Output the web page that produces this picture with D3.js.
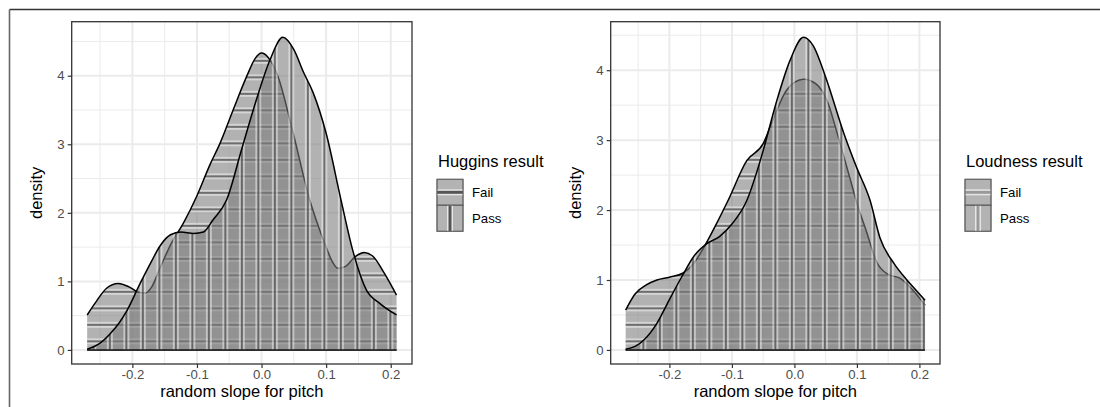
<!DOCTYPE html>
<html>
<head>
<meta charset="utf-8">
<script src="https://cdn.jsdelivr.net/npm/d3@7"></script>
<style>
  body { margin: 0; background: #fff; }
  text { font-family: "Liberation Sans", Arial, sans-serif; }
</style>
</head>
<body>
<div id="chart"></div>
<script>
// data: [slope, density]
const hugginsFail = [[-0.27,0.51],[-0.255,0.72],[-0.24,0.9],[-0.222,0.97],[-0.205,0.92],[-0.19,0.84],[-0.18,0.83],[-0.17,0.92],[-0.157,1.2],[-0.14,1.55],[-0.121,1.85],[-0.1,2.25],[-0.08,2.7],[-0.064,3.02],[-0.044,3.5],[-0.023,3.99],[-0.01,4.25],[0,4.33],[0.01,4.27],[0.025,4.0],[0.049,3.16],[0.0745,2.19],[0.09,1.75],[0.1,1.5],[0.11,1.28],[0.118,1.19],[0.13,1.22],[0.145,1.36],[0.159,1.42],[0.172,1.37],[0.19,1.12],[0.209,0.8]]
const hugginsPass = [[-0.27,0.01],[-0.25,0.1],[-0.234,0.24],[-0.22,0.4],[-0.208,0.58],[-0.188,0.97],[-0.17,1.3],[-0.157,1.52],[-0.141,1.68],[-0.125,1.72],[-0.105,1.7],[-0.09,1.72],[-0.075,1.9],[-0.054,2.19],[-0.031,2.92],[-0.008,3.65],[0.013,4.23],[0.033,4.56],[0.05,4.38],[0.065,4.05],[0.08,3.75],[0.1,3.16],[0.123,2.19],[0.141,1.46],[0.162,0.88],[0.183,0.68],[0.209,0.51]]
const loudnessFail = [[-0.27,0.57],[-0.255,0.8],[-0.237,0.93],[-0.22,1.0],[-0.2,1.04],[-0.178,1.1],[-0.16,1.25],[-0.146,1.45],[-0.125,1.8],[-0.106,2.14],[-0.076,2.71],[-0.05,2.95],[-0.034,3.3],[-0.012,3.72],[0.0145,3.87],[0.035,3.8],[0.052,3.57],[0.07,3.05],[0.089,2.45],[0.1,2.1],[0.115,1.7],[0.132,1.25],[0.15,1.08],[0.17,1.02],[0.19,0.85],[0.209,0.64]]
const loudnessPass = [[-0.27,0.01],[-0.255,0.05],[-0.24,0.15],[-0.22,0.38],[-0.2,0.72],[-0.18,1.05],[-0.16,1.35],[-0.14,1.52],[-0.12,1.62],[-0.1,1.8],[-0.076,2.14],[-0.06,2.55],[-0.05,2.85],[-0.028,3.57],[-0.007,4.14],[0.0145,4.47],[0.03,4.35],[0.05,3.9],[0.079,3.1],[0.1,2.6],[0.121,2.14],[0.137,1.6],[0.159,1.24],[0.18,1.0],[0.195,0.85],[0.209,0.71]]

const xTicks = [-0.2, -0.1, 0.0, 0.1, 0.2]
const xMinor = [-0.25, -0.15, -0.05, 0.05, 0.15]
const yTicks = [0, 1, 2, 3, 4]
const yMinor = [0.5, 1.5, 2.5, 3.5, 4.5]
const groups = ["Fail", "Pass"]
const xLabel = "random slope for pitch"
const yLabel = "density"

const width = 1100
const height = 407

const panels = [
    {id: "hug", left: 71.7, right: 412, top: 21.7, bottom: 364, title: "Huggins result",
     fail: hugginsFail, pass: hugginsPass, legendX: 437, keyDark: "#555"},
    {id: "loud", left: 610.7, right: 940, top: 21.7, bottom: 364, title: "Loudness result",
     fail: loudnessFail, pass: loudnessPass, legendX: 965, keyDark: "#9a9a9a"}
]

const svg = d3.select("#chart").append("svg")
    .attr("width", width).attr("height", height)

svg.append("rect").attr("width", width).attr("height", height).attr("fill", "#fff")

// outer frame
svg.append("line").attr("x1", 9.5).attr("x2", width).attr("y1", 9.5).attr("y2", 9.5)
    .attr("stroke", "#333").attr("stroke-width", 1.6)
svg.append("line").attr("x1", 9.5).attr("x2", 9.5).attr("y1", 9.5).attr("y2", height)
    .attr("stroke", "#666").attr("stroke-width", 1.6)

const defs = svg.append("defs")

panels.forEach(p => {
    const allD = p.fail.concat(p.pass)
    const xs = d3.extent(allD, d => d[0])
    const xr = xs[1] - xs[0]
    const yMax = d3.max(allD, d => d[1])

    const x = d3.scaleLinear().domain([xs[0] - 0.05 * xr, xs[1] + 0.05 * xr]).range([p.left, p.right])
    const y = d3.scaleLinear().domain([-0.045 * yMax, yMax * 1.05]).range([p.bottom, p.top])

    const g = svg.append("g")

    // grid
    const grid = g.append("g")
    grid.selectAll(".ymin").data(yMinor.filter(v => v < y.domain()[1])).enter().append("line")
        .attr("x1", p.left).attr("x2", p.right).attr("y1", d => y(d)).attr("y2", d => y(d))
        .attr("stroke", "#ebebeb").attr("stroke-width", 1)
    grid.selectAll(".xmin").data(xMinor).enter().append("line")
        .attr("y1", p.top).attr("y2", p.bottom).attr("x1", d => x(d)).attr("x2", d => x(d))
        .attr("stroke", "#ebebeb").attr("stroke-width", 1)
    grid.selectAll(".ymaj").data(yTicks).enter().append("line")
        .attr("x1", p.left).attr("x2", p.right).attr("y1", d => y(d)).attr("y2", d => y(d))
        .attr("stroke", "#ebebeb").attr("stroke-width", 2)
    grid.selectAll(".xmaj").data(xTicks).enter().append("line")
        .attr("y1", p.top).attr("y2", p.bottom).attr("x1", d => x(d)).attr("x2", d => x(d))
        .attr("stroke", "#ebebeb").attr("stroke-width", 2)

    const area = d3.area()
        .x(d => x(d[0])).y0(y(0)).y1(d => y(d[1]))
        .curve(d3.curveMonotoneX)
    const line = d3.line()
        .x(d => x(d[0])).y(d => y(d[1]))
        .curve(d3.curveMonotoneX)

    const sp = 16.5
    const pw = p.right - p.left
    const ph = p.bottom - p.top
    const cx = (p.left + p.right) / 2
    const cy = (p.top + p.bottom) / 2

    // Fail drawn first, Pass on top
    groups.forEach(name => {
        const data = name === "Fail" ? p.fail : p.pass
        const clipId = `clip-${p.id}-${name}`
        defs.append("clipPath").attr("id", clipId).append("path").attr("d", area(data))

        g.append("path").attr("d", area(data))
            .attr("fill", "#7a7a7a").attr("fill-opacity", 0.58)

        const stripes = g.append("g").attr("clip-path", `url(#${clipId})`)
        const pos = []
        if (name === "Fail") {
            for (let k = -12; k <= 12; k++) pos.push(cy + k * sp)
            stripes.selectAll(".light").data(pos).enter().append("rect")
                .attr("x", p.left).attr("width", pw).attr("y", d => d - 3).attr("height", 6)
                .attr("fill", "#fff").attr("fill-opacity", 0.45)
            stripes.selectAll(".dark").data(pos).enter().append("rect")
                .attr("x", p.left).attr("width", pw).attr("y", d => d - 1).attr("height", 2)
                .attr("fill", "#2a2a2a").attr("fill-opacity", 0.6)
        } else {
            for (let k = -12; k <= 12; k++) pos.push(cx + k * sp)
            stripes.selectAll(".light").data(pos).enter().append("rect")
                .attr("y", p.top).attr("height", ph).attr("x", d => d - 3).attr("width", 6)
                .attr("fill", "#fff").attr("fill-opacity", 0.45)
            stripes.selectAll(".dark").data(pos).enter().append("rect")
                .attr("y", p.top).attr("height", ph).attr("x", d => d - 1).attr("width", 2)
                .attr("fill", "#2a2a2a").attr("fill-opacity", 0.6)
        }

        g.append("line")
            .attr("x1", x(data[0][0])).attr("x2", x(data[data.length - 1][0]))
            .attr("y1", y(0)).attr("y2", y(0))
            .attr("stroke", "#222").attr("stroke-width", 1.4)
        g.append("path").attr("d", line(data))
            .attr("fill", "none").attr("stroke", "#000").attr("stroke-width", 1.5)
    })

    // panel border
    g.append("rect").attr("x", p.left).attr("y", p.top).attr("width", pw).attr("height", ph)
        .attr("fill", "none").attr("stroke", "#333").attr("stroke-width", 1.3)

    // axes
    const xAxis = g.append("g").attr("transform", `translate(0, ${p.bottom})`)
        .call(d3.axisBottom(x).tickValues(xTicks).tickSize(4).tickPadding(2).tickFormat(d3.format(".1f")))
    const yAxis = g.append("g").attr("transform", `translate(${p.left}, 0)`)
        .call(d3.axisLeft(y).tickValues(yTicks).tickSize(4).tickPadding(3).tickFormat(d3.format("d")))
    ;[xAxis, yAxis].forEach(a => {
        a.select(".domain").remove()
        a.selectAll(".tick line").attr("stroke", "#333").attr("stroke-width", 1.2)
        a.selectAll(".tick text").attr("fill", "#4d4d4d").style("font-size", "13.2px")
            .style("font-family", "'Liberation Sans', Arial, sans-serif")
    })
    xAxis.selectAll(".tick text").text(d => d === 0 ? "0.0" : d3.format(".1f")(d).replace("−", "-"))

    // axis titles
    g.append("text").attr("x", cx).attr("y", 397).attr("text-anchor", "middle")
        .style("font-size", "16.5px").text(xLabel)
    g.append("text").attr("transform", `translate(${p.left - 30}, ${cy}) rotate(-90)`)
        .attr("text-anchor", "middle").style("font-size", "16.5px").text(yLabel)

    // legend
    const lg = g.append("g")
    lg.append("text").attr("x", p.legendX + 1).attr("y", 167).style("font-size", "16.5px").text(p.title)
    groups.forEach((name, i) => {
        const ky = 179.3 + i * 26
        lg.append("rect").attr("x", p.legendX).attr("y", ky).attr("width", 26).attr("height", 26)
            .attr("fill", "#b3b3b3").attr("stroke", "#666").attr("stroke-width", 1)
        if (name === "Fail") {
            lg.append("rect").attr("x", p.legendX).attr("y", ky + 10).attr("width", 26).attr("height", 6)
                .attr("fill", "#e6e6e6")
            lg.append("rect").attr("x", p.legendX).attr("y", ky + 11.5).attr("width", 26).attr("height", 3)
                .attr("fill", p.keyDark)
        } else {
            lg.append("rect").attr("x", p.legendX + 10).attr("y", ky).attr("width", 6).attr("height", 26)
                .attr("fill", "#e6e6e6")
            lg.append("rect").attr("x", p.legendX + 11.5).attr("y", ky).attr("width", 3).attr("height", 26)
                .attr("fill", p.keyDark)
        }
        lg.append("rect").attr("x", p.legendX).attr("y", ky).attr("width", 26).attr("height", 26)
            .attr("fill", "none").attr("stroke", "#666").attr("stroke-width", 1)
        lg.append("text").attr("x", p.legendX + 35).attr("y", ky + 13).attr("dy", "0.35em")
            .style("font-size", "13.2px").text(name)
    })
})
</script>
</body>
</html>
